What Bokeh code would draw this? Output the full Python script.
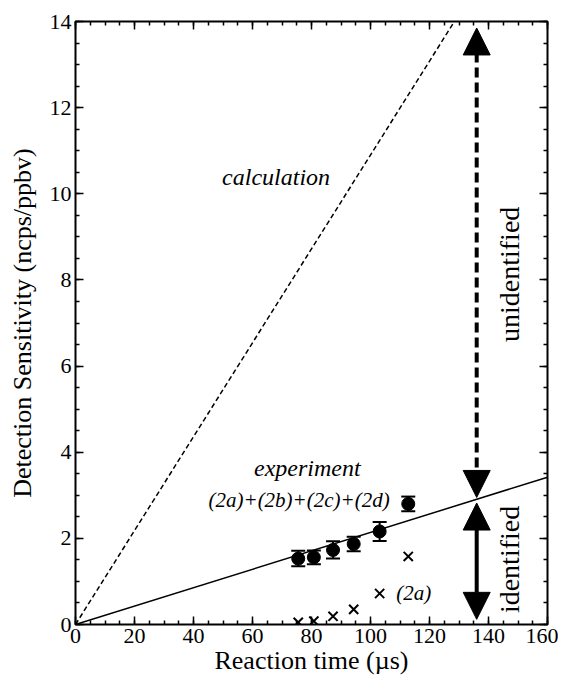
import math
from bokeh.plotting import figure
from bokeh.models import (Range1d, LinearAxis, SingleIntervalTicker, Whisker, TeeHead,
                          Arrow, NormalHead, ColumnDataSource, CustomJSTickFormatter)
from bokeh.core.properties import value
from bokeh.embed import file_html
from bokeh.resources import INLINE

# ---------------- data ----------------
x_exp = [75.5, 80.8, 87.3, 94.3, 103.1, 112.8]
y_exp = [1.53, 1.56, 1.73, 1.87, 2.16, 2.80]
err_exp = [0.18, 0.16, 0.20, 0.17, 0.22, 0.17]

x_2a = [75.5, 80.8, 87.3, 94.3, 103.1, 112.8]
y_2a = [0.05, 0.08, 0.19, 0.35, 0.72, 1.58]

line_x = [0, 160]
calc_y = [0, 17.44]
exp_y = [0, 3.42]

arrow_x = 136
unidentified_span = [2.95, 13.85]
identified_span = [0.12, 2.82]

x_ticks_interval = 20
y_ticks_interval = 2

SERIF = "Liberation Serif"

p = figure(width=558, height=678, output_backend="svg", toolbar_location=None,
           x_range=Range1d(0, 160), y_range=Range1d(0, 14),
           min_border_left=75, min_border_right=11, min_border_top=21, min_border_bottom=54)
p.xgrid.visible = False
p.ygrid.visible = False
p.outline_line_color = "black"
p.outline_line_width = 2
p.background_fill_color = "white"
p.border_fill_color = "white"

def style_axis(ax, show_labels=True):
    ax.major_tick_in = 8
    ax.major_tick_out = 0
    ax.minor_tick_in = 4
    ax.minor_tick_out = 0
    ax.major_tick_line_color = "black"
    ax.minor_tick_line_color = "black"
    ax.major_tick_line_width = 1.5
    ax.minor_tick_line_width = 1.5
    ax.axis_line_color = None
    ax.major_label_text_font = SERIF
    ax.major_label_text_color = "black"
    ax.axis_label_text_font = SERIF
    ax.axis_label_text_font_style = "normal"
    ax.axis_label_text_color = "black"
    if show_labels:
        ax.major_label_text_font_size = "22px"
        ax.axis_label_text_font_size = "26px"
    else:
        ax.formatter = CustomJSTickFormatter(code="return ''")
        ax.major_label_text_font_size = "1px"
        ax.major_label_standoff = 0

xt = SingleIntervalTicker(interval=x_ticks_interval, num_minor_ticks=4)
yt = SingleIntervalTicker(interval=y_ticks_interval, num_minor_ticks=4)

p.xaxis.ticker = xt
p.yaxis.ticker = yt
style_axis(p.xaxis[0])
style_axis(p.yaxis[0])
p.xaxis.axis_label = "Reaction time (µs)"
p.yaxis.axis_label = "Detection Sensitivity (ncps/ppbv)"
p.xaxis.major_label_standoff = 4
p.yaxis.major_label_standoff = 4
p.xaxis.axis_label_standoff = 0
p.yaxis.axis_label_standoff = 10

top = LinearAxis(ticker=SingleIntervalTicker(interval=x_ticks_interval, num_minor_ticks=4))
style_axis(top, show_labels=False)
p.add_layout(top, "above")
right = LinearAxis(ticker=SingleIntervalTicker(interval=y_ticks_interval, num_minor_ticks=4))
style_axis(right, show_labels=False)
p.add_layout(right, "right")

# lines
p.line(line_x, calc_y, line_color="black", line_width=1.5, line_dash="5 3")
p.line(line_x, exp_y, line_color="black", line_width=1.5)

# error bars
src = ColumnDataSource(dict(x=x_exp, y=y_exp,
                            upper=[y + e for y, e in zip(y_exp, err_exp)],
                            lower=[y - e for y, e in zip(y_exp, err_exp)]))
p.add_layout(Whisker(source=src, base="x", upper="upper", lower="lower",
                     line_color="black", line_width=2,
                     upper_head=TeeHead(size=14, line_width=2, line_color="black"),
                     lower_head=TeeHead(size=14, line_width=2, line_color="black")))
p.scatter("x", "y", source=src, size=13, marker="circle", fill_color="black", line_color="black")

# (2a) crosses
p.scatter(x_2a, y_2a, marker="x", size=13, line_color="black", line_width=2)

# arrows
p.add_layout(Arrow(x_start=arrow_x, y_start=unidentified_span[0], x_end=arrow_x, y_end=unidentified_span[1],
                   line_color="black", line_width=4, line_dash="10 5",
                   start=NormalHead(size=27, fill_color="black", line_color="black"),
                   end=NormalHead(size=27, fill_color="black", line_color="black")))
p.add_layout(Arrow(x_start=arrow_x, y_start=identified_span[0], x_end=arrow_x, y_end=identified_span[1],
                   line_color="black", line_width=4,
                   start=NormalHead(size=27, fill_color="black", line_color="black"),
                   end=NormalHead(size=27, fill_color="black", line_color="black")))

# texts
def txt(x, y, s, size, italic=True, angle=0.0):
    p.text(x=[x], y=[y], text=[s], text_font=value(SERIF), text_font_size=size,
           text_font_style="italic" if italic else "normal", text_color="black",
           text_align="center", text_baseline="middle", angle=angle)

txt(68, 10.39, "calculation", "24px")
txt(78.6, 3.64, "experiment", "24px")
txt(75.8, 2.90, "(2a)+(2b)+(2c)+(2d)", "21px")
txt(114.7, 0.72, "(2a)", "21px")
txt(147, 8.13, "unidentified", "28px", italic=False, angle=math.pi / 2)
txt(147, 1.51, "identified", "28px", italic=False, angle=math.pi / 2)

open("out.html", "w").write(file_html(p, INLINE))
